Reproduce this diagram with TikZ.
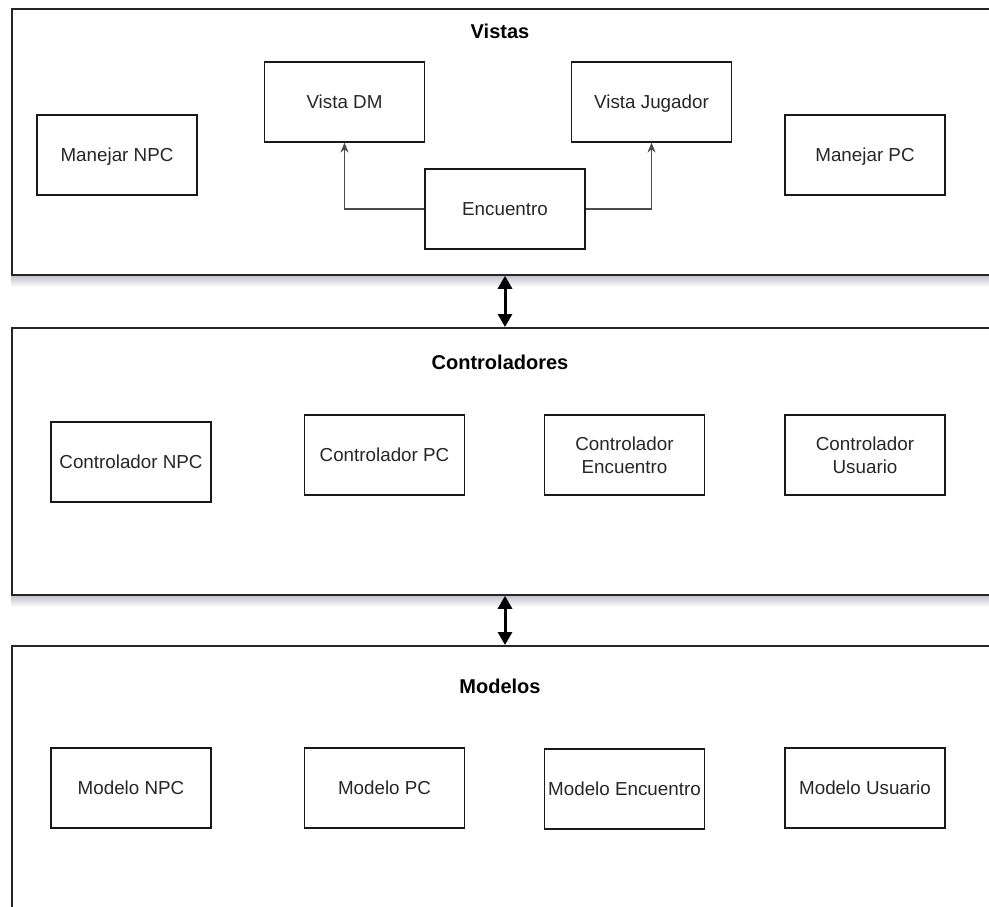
\documentclass[tikz,border=0pt]{standalone}
\usepackage{fontspec}
\setmainfont{Liberation Sans}
\usetikzlibrary{positioning,arrows.meta}

\begin{document}
\begin{tikzpicture}[x=0.5pt, y=-0.5pt,
  capa/.style={draw=black!85, line width=0.9pt, anchor=north west, minimum width=500pt, inner sep=0pt},
  titulo/.style={font=\fontsize{10}{12}\selectfont\bfseries},
  caja/.style={draw=black!90, line width=0.6pt, minimum width=80pt, minimum height=40pt, align=center, inner sep=1pt, font=\fontsize{9.4}{11.5}\selectfont, text=black!85},
  flecha/.style={draw=black!70, line width=0.6pt, -{Stealth[length=5pt,width=4pt]}},
  doble/.style={line width=1.5pt, {Triangle[length=6.5pt,width=7pt]}-{Triangle[length=6.5pt,width=7pt]}},
  sombra/.style={top color=blue!20!black!25, bottom color=white}]
\useasboundingbox (0,0) rectangle (989,906);
\clip (0,0) rectangle (989,906);
% sombras de las capas
\shade[sombra] (11,275) rectangle (989,287);
\shade[sombra] (11,595) rectangle (989,607);
% capas
\node[capa, minimum height=133pt] (vistas) at (11,8) {};
\node[capa, minimum height=133.5pt] (ctrl) at (11,327) {};
\node[capa, minimum height=150pt] (modelos) at (11,645) {};
\node[titulo] (tVistas) at (500,31) {Vistas};
\node[titulo] (tCtrl) at (500,362) {Controladores};
\node[titulo] (tModelos) at (500,686) {Modelos};
% vistas
\node[caja, text height=1.5ex, text depth=0.25ex] (manejarNPC) at (117,155) {Manejar NPC};
\node[caja, text height=1.5ex, text depth=0.25ex] (vistaDM) at (344.5,102) {Vista DM};
\node[caja, text height=1.5ex, text depth=0.25ex] (vistaJug) at (651.5,102) {Vista Jugador};
\node[caja, text height=1.5ex, text depth=0.25ex] (manejarPC) at (865,155) {Manejar PC};
\node[caja, text height=1.5ex, text depth=0.25ex] (encuentro) at (505,209) {Encuentro};
% controladores
\node[caja] (ctrlNPC) at (131,462) {Controlador NPC};
\node[caja] (ctrlPC) at (384.5,455) {Controlador PC};
\node[caja] (ctrlEnc) at (624.5,455) {Controlador\\Encuentro};
\node[caja] (ctrlUsr) at (865,455) {Controlador\\Usuario};
% modelos
\node[caja] (modNPC) at (131,788) {Modelo NPC};
\node[caja] (modPC) at (384.5,788) {Modelo PC};
\node[caja] (modEnc) at (624.5,789) {Modelo Encuentro};
\node[caja] (modUsr) at (865,788) {Modelo Usuario};
\draw[flecha] (encuentro.west) -| (vistaDM.south);
\draw[flecha] (encuentro.east) -| (vistaJug.south);
\draw[doble] (vistas.south -| encuentro) -- (ctrl.north -| encuentro);
\draw[doble] (ctrl.south -| encuentro) -- (modelos.north -| encuentro);
\end{tikzpicture}
\end{document}
